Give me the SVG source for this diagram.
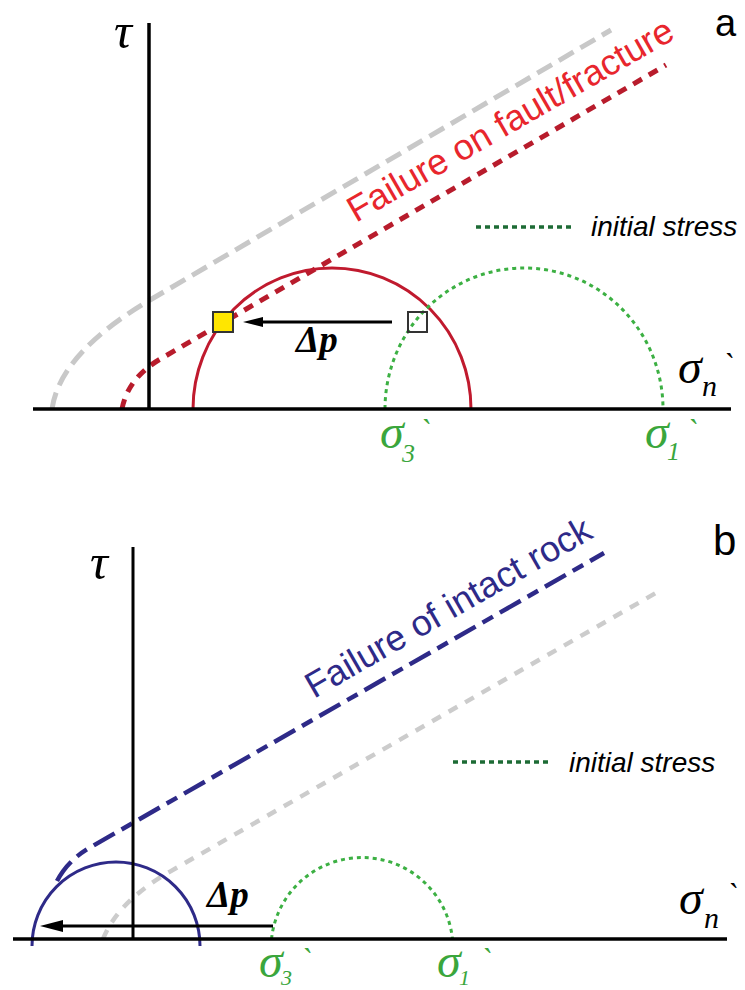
<svg xmlns="http://www.w3.org/2000/svg" width="745" height="990" viewBox="0 0 745 990">
<style>
.ax{stroke:#000;fill:none}
.ser{font-family:"Liberation Serif","Times New Roman",serif;font-style:italic}
.sans{font-family:"Liberation Sans",Arial,sans-serif}
.grn{fill:#3aa63c}
.gcirc{fill:none;stroke:#3cb043;stroke-width:3;stroke-dasharray:4 4}
.leg{stroke:#1d6b35;stroke-width:3.5;stroke-dasharray:5 4;fill:none}
.arr{stroke:#000;stroke-width:3;fill:none}
</style>
<rect width="745" height="990" fill="#fff"/>

<!-- Panel a -->
<g id="panel-a">
  <g id="a-envelopes">
    <path d="M 52 409 Q 60 353 150 300 L 611 30" fill="none" stroke="#c8c8c8" stroke-width="5" stroke-dasharray="17 8"/>
    <path d="M 122 409 Q 128 378 160 359.2 L 666 65" fill="none" stroke="#b81c2c" stroke-width="5" stroke-dasharray="10 8"/>
  </g>
  <g id="a-circles">
    <path d="M 193 409 A 139 141 0 0 1 471 409" fill="none" stroke="#c01a2e" stroke-width="3"/>
    <path class="gcirc" d="M 385 409 A 139 141 0 0 1 663 409"/>
  </g>
  <g id="a-axes">
    <path class="ax" stroke-width="3.5" d="M 149 23 V 409"/>
    <path class="ax" stroke-width="3.5" d="M 33 409 H 731"/>
  </g>
  <g id="a-connectors">
    <path class="arr" d="M 392 322 H 260"/>
    <polygon points="243,322 263,317 263,327" fill="#000"/>
  </g>
  <g id="a-square-new"><rect x="213" y="312" width="20" height="20" fill="#ffe600" stroke="#333" stroke-width="2"/></g>
  <g id="a-square-init"><rect x="408" y="312" width="19" height="20" fill="none" stroke="#333" stroke-width="2"/></g>
  <g id="a-labels">
    <text class="ser" x="114" y="48" font-size="50">τ</text>
    <text class="sans" x="715" y="36" font-size="38">a</text>
    <text class="sans" transform="translate(356,223) rotate(-30)" font-size="36" fill="#e8262d">Failure on fault/fracture</text>
    <path class="leg" d="M 476 227 H 572"/>
    <text class="sans" x="591" y="236" font-size="28" font-style="italic">initial stress</text>
    <text class="ser" x="296" y="352" font-size="37" font-weight="bold">Δp</text>
    <text class="ser" x="678" y="383" font-size="48">σ</text>
    <text class="ser" x="702" y="396" font-size="30">n</text>
    <text class="ser" x="722" y="375" font-size="32">`</text>
    <text class="ser grn" x="380" y="448" font-size="48">σ</text>
    <text class="ser grn" x="402" y="462" font-size="26">3</text>
    <text class="ser grn" x="419" y="441" font-size="32">`</text>
    <text class="ser grn" x="645" y="448" font-size="48">σ</text>
    <text class="ser grn" x="667" y="460" font-size="26">1</text>
    <text class="ser grn" x="686" y="441" font-size="32">`</text>
  </g>
</g>

<!-- Panel b -->
<g id="panel-b">
  <g id="b-envelopes">
    <path d="M 103 939 Q 118 901.5 170 871.6 L 661 590" fill="none" stroke="#cccccc" stroke-width="4.5" stroke-dasharray="10 9"/>
    <path d="M 57 881 Q 68 860.1 90 847.5 L 604 553" fill="none" stroke="#2e2a88" stroke-width="4.5" stroke-dasharray="24 8 12 8"/>
  </g>
  <g id="b-circles">
    <path d="M 32 946 A 84 84 0 0 1 200 946" fill="none" stroke="#2e2a88" stroke-width="3"/>
    <path class="gcirc" d="M 271.5 939 A 91 91 0 0 1 452.5 939"/>
  </g>
  <g id="b-axes">
    <path class="ax" stroke-width="3" d="M 133 547 V 939"/>
    <path class="ax" stroke-width="3.5" d="M 13 939 H 727"/>
  </g>
  <g id="b-connectors">
    <path class="arr" d="M 273 926 H 60"/>
    <polygon points="40,926 63,920 63,932" fill="#000"/>
  </g>
  <g id="b-labels">
    <text class="ser" x="90" y="579" font-size="50">τ</text>
    <text class="sans" x="713" y="555" font-size="42">b</text>
    <text class="sans" transform="translate(314,699) rotate(-30)" font-size="36" fill="#2e2a88">Failure of intact rock</text>
    <path class="leg" d="M 453 762 H 551"/>
    <text class="sans" x="569" y="772" font-size="28" font-style="italic">initial stress</text>
    <text class="ser" x="207" y="907" font-size="37" font-weight="bold">Δp</text>
    <text class="ser" x="679" y="914" font-size="48">σ</text>
    <text class="ser" x="704" y="928" font-size="30">n</text>
    <text class="ser" x="726" y="905" font-size="32">`</text>
    <text class="ser grn" x="259" y="977" font-size="48">σ</text>
    <text class="ser grn" x="281" y="985" font-size="22">3</text>
    <text class="ser grn" x="300" y="970" font-size="32">`</text>
    <text class="ser grn" x="437" y="977" font-size="48">σ</text>
    <text class="ser grn" x="459" y="985" font-size="22">1</text>
    <text class="ser grn" x="480" y="970" font-size="32">`</text>
  </g>
</g>
</svg>
